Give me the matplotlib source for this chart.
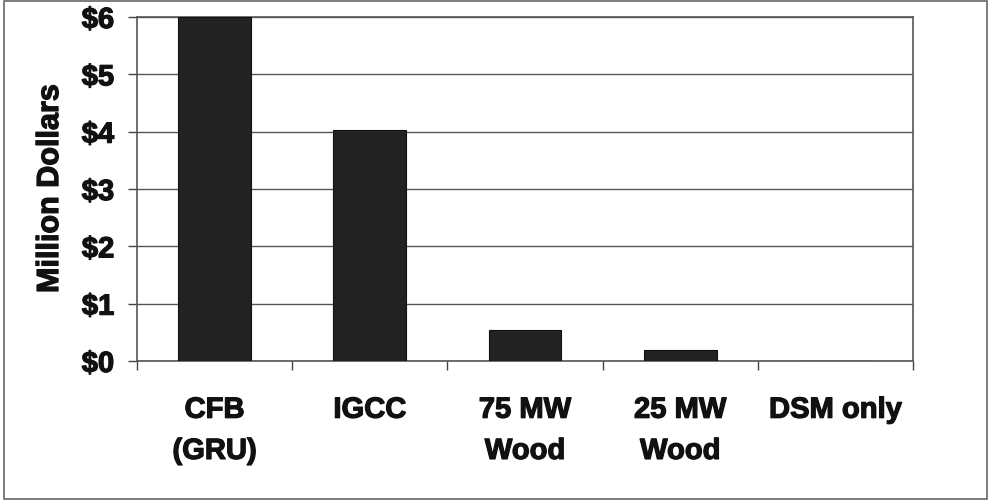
import numpy as np
import matplotlib.pyplot as plt
import matplotlib.patheffects as pe
from matplotlib.patches import Rectangle

# data
categories = ['CFB\n(GRU)', 'IGCC', '75 MW\nWood', '25 MW\nWood', 'DSM only']
values = [6.0, 4.03, 0.54, 0.19, 0.0]
y_ticks = [0, 1, 2, 3, 4, 5, 6]
y_labels = ['$0', '$1', '$2', '$3', '$4', '$5', '$6']

plt.rcParams['font.family'] = ['Liberation Sans', 'DejaVu Sans']
plt.rcParams['font.weight'] = 'bold'

fig = plt.figure(figsize=(9.91, 5.01), dpi=100)
ax = fig.add_axes([137 / 991, 1 - 361 / 501, 776 / 991, 344 / 501])

x = np.arange(len(categories))
ax.bar(x, values, width=0.47, color='#222222', edgecolor='#111111', linewidth=0.8, zorder=3)

ax.set_xlim(-0.5, len(categories) - 0.5)
ax.set_ylim(0, 6)
ax.set_yticks(y_ticks)
ax.set_yticklabels(y_labels, fontsize=21, fontweight='bold')
ax.set_xticks(x)
ax.set_xticklabels(categories, fontsize=21, fontweight='bold', linespacing=1.6)
ax.set_xticks(np.arange(len(categories) + 1) - 0.5, minor=True)
ax.tick_params(axis='x', which='major', length=0, pad=25)
ax.tick_params(axis='x', which='minor', length=6.5, width=1, color='#444444')
ax.tick_params(axis='y', length=6.5, width=1, color='#444444', pad=10)

ax.yaxis.grid(True, color='#555555', linewidth=1, zorder=0)
for s in ax.spines.values():
    s.set_color('#555555')
    s.set_linewidth(1.2)

ax.set_ylabel('Million Dollars', fontsize=22, fontweight='bold', labelpad=12)

# heavier strokes, like the scanned bold type
heavy = [pe.withStroke(linewidth=0.9, foreground='#111111')]
for t in ax.get_xticklabels() + ax.get_yticklabels() + [ax.yaxis.label]:
    t.set_color('#111111')
    t.set_path_effects(heavy)

# outer frame of the chart
fig.patches.append(Rectangle((0.004, 0.004), 0.992, 0.994, transform=fig.transFigure,
                             fill=False, edgecolor='#666666', linewidth=1.2))

fig.savefig('out.png', dpi=100, facecolor='white')
